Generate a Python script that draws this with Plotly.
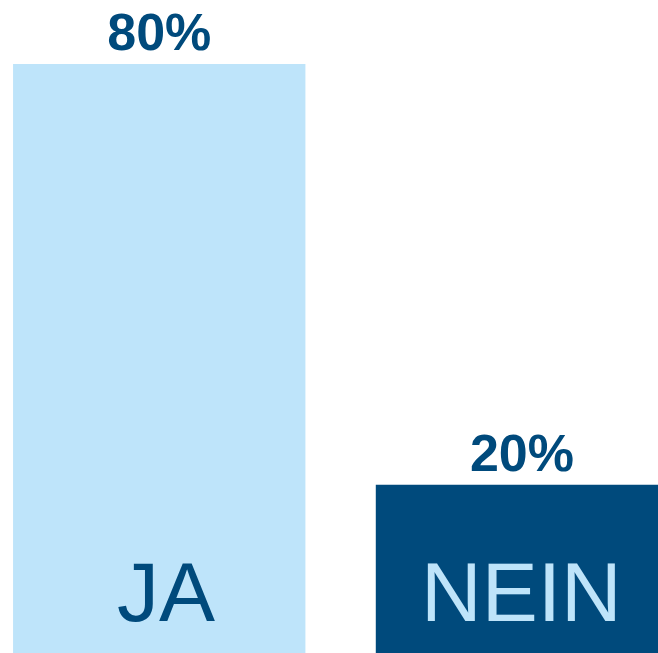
import plotly.graph_objects as go

# data
categories = ["JA", "NEIN"]
shares = [80, 20]
share_labels = ["80%", "20%"]

# bars reach a little below the zero line in the original graphic
stub = 4

bar_colors = ["#BEE4FA", "#004A7C"]
name_colors = ["#004A7C", "#BEE4FA"]
name_xshift = [7, 0]

fig = go.Figure(go.Bar(
    x=categories,
    y=[v + stub for v in shares],
    base=-stub,
    width=0.806,
    marker=dict(color=bar_colors, line=dict(width=0)),
    text=share_labels,
    textposition="outside",
    textfont=dict(family="Liberation Sans, Arial, sans-serif", size=52, color="#004A7C"),
    cliponaxis=False,
    hoverinfo="skip",
))

# category names inside the bars, at their foot
for cat, col, dx in zip(categories, name_colors, name_xshift):
    fig.add_annotation(
        x=cat, y=0, xref="x", yref="paper",
        text=cat, showarrow=False,
        yanchor="bottom", yshift=12, xshift=dx,
        font=dict(family="Liberation Sans, Arial, sans-serif", size=84, color=col),
    )

fig.update_layout(
    width=658, height=653,
    margin=dict(l=0, r=0, t=0, b=0),
    paper_bgcolor="white", plot_bgcolor="white",
    showlegend=False,
    font=dict(family="Liberation Sans, Arial, sans-serif"),
)
fig.update_traces(textfont_weight="bold")
fig.update_xaxes(range=[-0.439, 1.375], visible=False)
fig.update_yaxes(range=[-stub, 89.13], visible=False)

# drop the browser's default body margin so the figure fills the window
fig.write_html(
    "out.html",
    config={"displayModeBar": False},
    post_script="document.body.style.margin='0';",
)
